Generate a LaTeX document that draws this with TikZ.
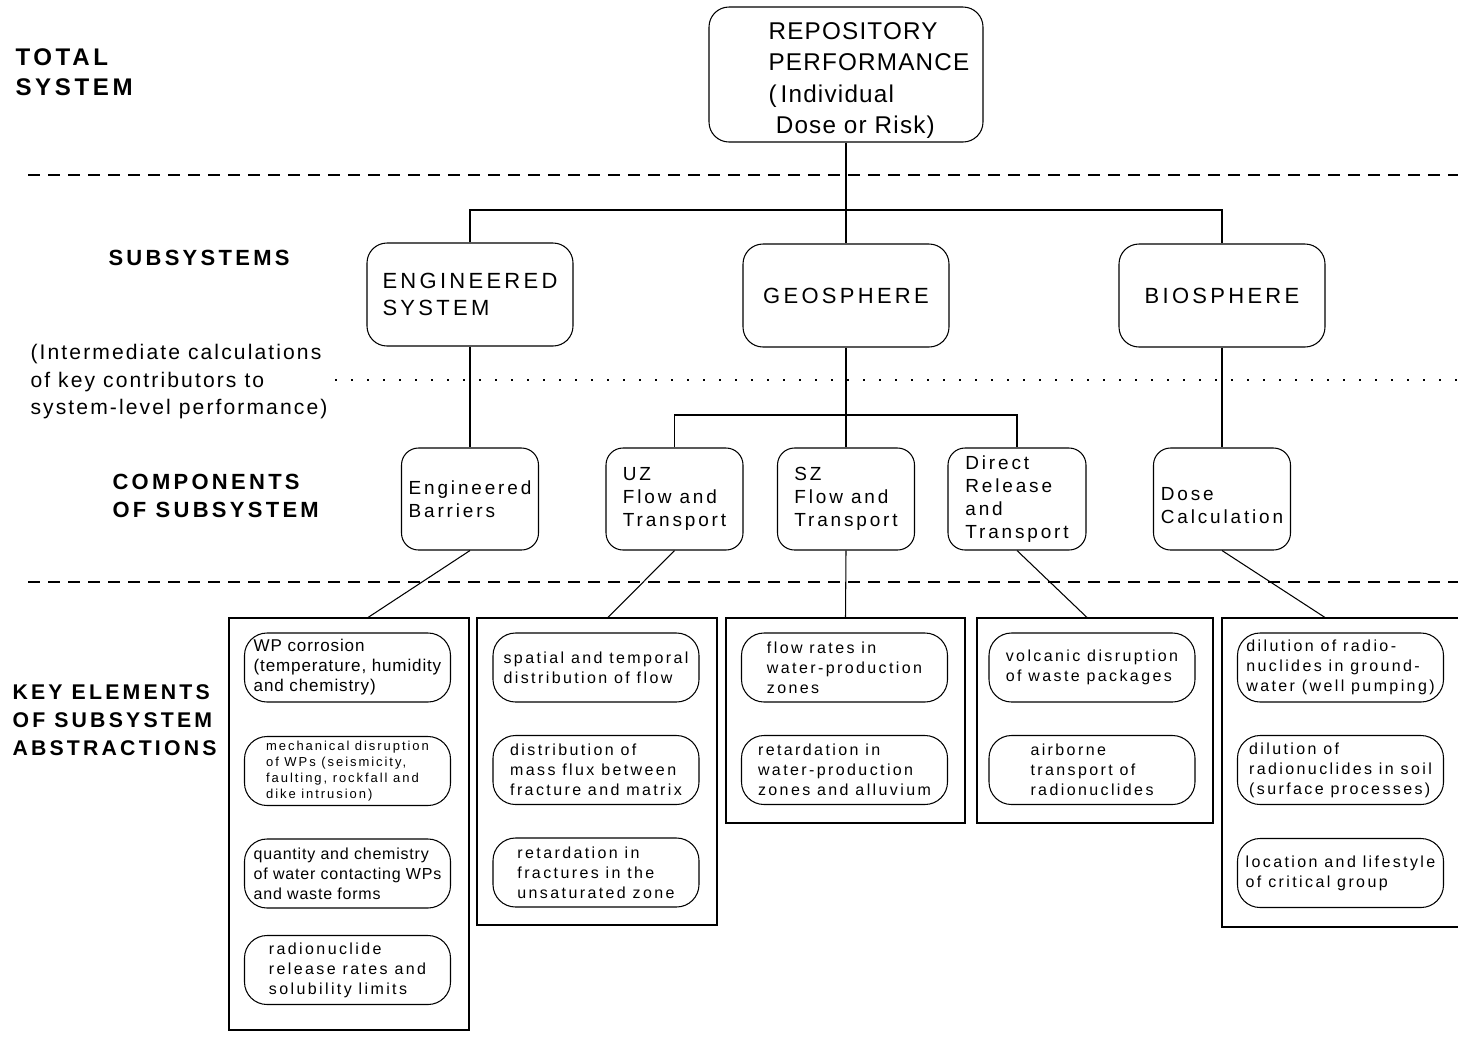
\documentclass[tikz,border=0pt]{standalone}
\usepackage{fontspec}
\setmainfont{Liberation Sans}
\newfontfamily\hvtight[LetterSpace=5]{Liberation Sans}
\newfontfamily\hvmid[LetterSpace=10]{Liberation Sans}
\newfontfamily\hvwide[LetterSpace=15]{Liberation Sans}
\usetikzlibrary{calc}

\begin{document}
\begin{tikzpicture}[x=0.2mm, y=-0.2mm, line width=0.6pt,
  topbox/.style={draw, rounded corners=4mm, minimum width=54.8mm, minimum height=27mm},
  toptext/.style={anchor=north west, inner sep=0pt, align=left, font=\hvtight\fontsize{13.8}{17.8}\selectfont},
  sysbox/.style={draw, rounded corners=4mm, align=left, minimum width=41.2mm, minimum height=20.6mm, font=\hvwide\fontsize{12.5}{15.4}\selectfont},
  compbox/.style={draw, rounded corners=3.4mm, align=left, minimum width=27.4mm, minimum height=20.4mm, inner sep=0.5mm, font=\hvwide\fontsize{10.8}{13.1}\selectfont},
  keybox/.style={draw, rounded corners=4.5mm, align=left, minimum width=41.2mm, minimum height=13.8mm, inner sep=0.5mm, font=\hvwide\fontsize{9.1}{11.4}\selectfont},
  keyplain/.style={keybox, font=\hvtight\fontsize{9.7}{11.4}\selectfont},
  keysmall/.style={keybox, font=\hvwide\fontsize{7.4}{9.1}\selectfont},
  keyframe/.style={draw, minimum width=48mm},
  lbl/.style={anchor=north west, inner sep=0pt, align=left, font=\hvwide\bfseries\fontsize{12.5}{15.6}\selectfont},
  sepline/.style={dash pattern=on 2.4mm off 1.6mm},
  dotline/.style={dash pattern=on 0.3mm off 2.9mm}
]
\useasboundingbox (0,0) rectangle (1458,1037);

% level labels
\node[lbl, font=\hvwide\bfseries\fontsize{13.7}{17}\selectfont] (ltotal) at (15,48) {TOTAL\\SYSTEM};
\node[lbl] (lsub) at (108,250) {SUBSYSTEMS};
\node[lbl, font=\hvmid\fontsize{12}{15.6}\selectfont] (lnote) at (30,344) {(Intermediate calculations\\of key contributors to\\system-level performance)};
\node[lbl] (lcomp) at (112,474) {COMPONENTS\\OF SUBSYSTEM};
\node[lbl, font=\hvwide\bfseries\fontsize{12.1}{16}\selectfont] (lkey) at (12,684) {KEY ELEMENTS\\OF SUBSYSTEM\\ABSTRACTIONS};

% level separators
\draw[sepline] (28,175) -- (1458,175);
\draw[dotline] (335,380) -- (1458,380);
\draw[sepline] (28,582) -- (1458,582);

% total system
\node[topbox] (top) at (846,74.5) {};
\node[toptext] (toplbl) at (768,22) {REPOSITORY\\PERFORMANCE\\(\,Individual\\\hspace*{0.3em}Dose or Risk)};

% subsystems
\node[sysbox] (eng) at (470,294.5) {ENGINEERED\\SYSTEM};
\node[sysbox] (geo) at (846,295.5) {GEOSPHERE};
\node[sysbox] (bio) at (1222,295.5) {BIOSPHERE};

% components
\node[compbox] (eb) at (470,499) {Engineered\\Barriers};
\node[compbox] (uz) at (674.5,499) {UZ\\Flow and\\Transport};
\node[compbox] (sz) at (846,499) {SZ\\Flow and\\Transport};
\node[compbox, minimum width=27.6mm] (dir) at (1017,499) {Direct\\Release\\and\\Transport};
\node[compbox] (dose) at (1222,499) {\mbox{}\\[1.5pt]Dose\\Calculation};

% key element frames
\node[keyframe, minimum height=82.4mm] (f1) at (349,824) {};
\node[keyframe, minimum height=61.4mm] (f2) at (597,771.5) {};
\node[keyframe, minimum width=47.8mm, minimum height=41mm] (f3) at (845.5,720.5) {};
\node[keyframe, minimum width=47.2mm, minimum height=41mm] (f4) at (1095,720.5) {};
\node[keyframe, minimum height=61.8mm] (f5) at (1342,772.5) {};

% engineered barriers
\node[keyplain] (eb1) at (347.5,667.5) {WP corrosion\\(temperature, humidity\\and chemistry)};
\node[keysmall] (eb2) at (347.5,771) {mechanical disruption\\of WPs (seismicity,\\faulting, rockfall and\\dike intrusion)};
\node[keyplain, font=\hvtight\fontsize{9.1}{11.4}\selectfont] (eb3) at (347.5,873.5) {quantity and chemistry\\of water contacting WPs\\and waste forms};
\node[keybox] (eb4) at (347.5,970) {radionuclide\\release rates and\\solubility limits};

% UZ
\node[keybox] (uz1) at (596,667.5) {spatial and temporal\\distribution of flow};
\node[keybox] (uz2) at (596,770) {distribution of\\mass flux between\\fracture and matrix};
\node[keybox] (uz3) at (596,872.5) {retardation in\\fractures in the\\unsaturated zone};

% SZ
\node[keybox] (sz1) at (844.5,667.5) {flow rates in\\water-production\\zones};
\node[keybox] (sz2) at (844.5,770) {retardation in\\water-production\\zones and alluvium};

% direct release
\node[keybox] (dir1) at (1092,667.5) {volcanic disruption\\of waste packages};
\node[keybox] (dir2) at (1092,770) {airborne\\transport of\\radionuclides};

% dose
\node[keybox] (dose1) at (1340.5,667.5) {dilution of radio-\\nuclides in ground-\\water (well pumping)};
\node[keybox] (dose2) at (1340.5,770) {dilution of\\radionuclides in soil\\(surface processes)};
\node[keybox] (dose3) at (1340.5,873) {location and lifestyle\\of critical group};

% tree
\coordinate (bus1) at (846,210);
\coordinate (bus2) at (846,415);
\draw (top) -- (geo);
\draw (eng.north) |- (bus1) -| (bio.north);
\draw (eng) -- (eb);
\draw (geo) -- (sz);
\draw (uz.north) |- (bus2) -| (dir.north);
\draw (bio) -- (dose);
\draw (eb.south) -- ([xshift=3.8mm]f1.north);
\draw (uz.south) -- ([xshift=2.2mm]f2.north);
\draw (sz.south) -- (f3.north);
\draw (dir.south) -- ([xshift=-1.6mm]f4.north);
\draw (dose.south) -- ([xshift=-3.4mm]f5.north);
\end{tikzpicture}
\end{document}
